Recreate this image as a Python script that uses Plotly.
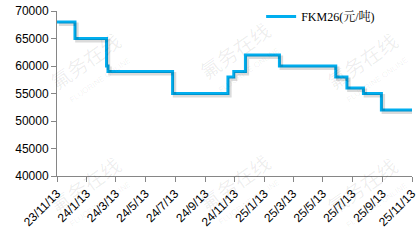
import plotly.graph_objects as go
import pandas as pd

# ---- data ----
dates = ['2023-11-13', '2023-12-20', '2024-02-23', '2024-02-26', '2024-07-08',
         '2024-10-30', '2024-11-11', '2024-12-05', '2025-02-13', '2025-06-09',
         '2025-07-02', '2025-08-05', '2025-09-11', '2025-11-13']
prices = [68000, 65000, 60000, 59000, 55000,
          58000, 59000, 62000, 60000, 58000,
          56000, 55000, 52000, 52000]
series_name = 'FKM26(元/吨)'
tick_dates = ['2023-11-13', '2024-01-13', '2024-03-13', '2024-05-13', '2024-07-13',
              '2024-09-13', '2024-11-13', '2025-01-13', '2025-03-13', '2025-05-13',
              '2025-07-13', '2025-09-13', '2025-11-13']
tick_labels = ['23/11/13', '24/1/13', '24/3/13', '24/5/13', '24/7/13', '24/9/13',
               '24/11/13', '25/1/13', '25/3/13', '25/5/13', '25/7/13', '25/9/13',
               '25/11/13']
watermark_cn = '氟务在线'
watermark_en = 'FLUORINE ONLINE'

x_range = ['2023-11-13', '2025-11-13']
y_range = [40000, 70000]

# shadow axes: shifted slightly so the shadow sits ~2px right/down
day_px = (412 - 57.3) / 731.0
shift_days = pd.Timedelta(days=1.5 / day_px)
x2_range = [str((pd.Timestamp(d) - shift_days).date()) for d in x_range]
y_px = (176 - 10.7) / 30000.0
y_shift = 2.2 / y_px
y2_range = [y_range[0] + y_shift, y_range[1] + y_shift]

fig = go.Figure()
fig.add_trace(go.Scatter(x=dates, y=prices, mode='lines', line_shape='hv',
                         line=dict(color='rgba(0,0,0,0.14)', width=3.5),
                         xaxis='x2', yaxis='y2', showlegend=False, hoverinfo='skip'))
fig.add_trace(go.Scatter(x=dates, y=prices, mode='lines', line_shape='hv',
                         name=series_name,
                         line=dict(color='#00AEEF', width=3)))

# watermarks, placed in paper fractions
wm_pos = [(0.08, 0.70), (0.50, 0.76), (0.86, 0.70), (0.08, -0.05), (0.50, -0.04), (0.86, -0.06)]
for (px, py) in wm_pos:
    fig.add_annotation(x=px, y=py, xref='paper', yref='paper', text=watermark_cn,
                       showarrow=False, textangle=-35, xanchor='center', yanchor='middle',
                       font=dict(size=20, color='rgba(0,0,0,0.07)', family='Noto Sans CJK SC'))
    fig.add_annotation(x=px + 0.04, y=py - 0.12, xref='paper', yref='paper',
                       text=watermark_en, showarrow=False, textangle=-35,
                       xanchor='center', yanchor='middle',
                       font=dict(size=8, color='rgba(0,0,0,0.07)', family='Arial'))

axis_col = '#868686'
fig.update_layout(
    width=420, height=241,
    margin=dict(l=57, r=8, t=11, b=65, autoexpand=False),
    paper_bgcolor='white', plot_bgcolor='white',
    font=dict(family='Arial, Liberation Sans', size=12, color='black'),
    xaxis=dict(type='date', range=x_range, tickvals=tick_dates, ticktext=tick_labels,
               tickangle=-45, showgrid=False, zeroline=False, showline=True,
               linecolor=axis_col, linewidth=1, ticks='outside', ticklen=5,
               tickcolor=axis_col, tickfont=dict(size=12)),
    yaxis=dict(range=y_range, dtick=5000, tickformat='d', showgrid=False, zeroline=False,
               showline=True, linecolor=axis_col, linewidth=1, ticks='outside',
               ticklen=5, tickcolor=axis_col, tickfont=dict(size=12)),
    xaxis2=dict(type='date', range=x2_range, overlaying='x', visible=False),
    yaxis2=dict(range=y2_range, overlaying='y', visible=False),
    legend=dict(x=0.575, y=1.055, xref='paper', yref='paper',
                xanchor='left', yanchor='top', bgcolor='rgba(0,0,0,0)',
                borderwidth=0, tracegroupgap=0,
                font=dict(family='Liberation Serif, Noto Serif CJK SC, serif', size=12)),
    showlegend=True,
)

fig.write_html('out.html')
